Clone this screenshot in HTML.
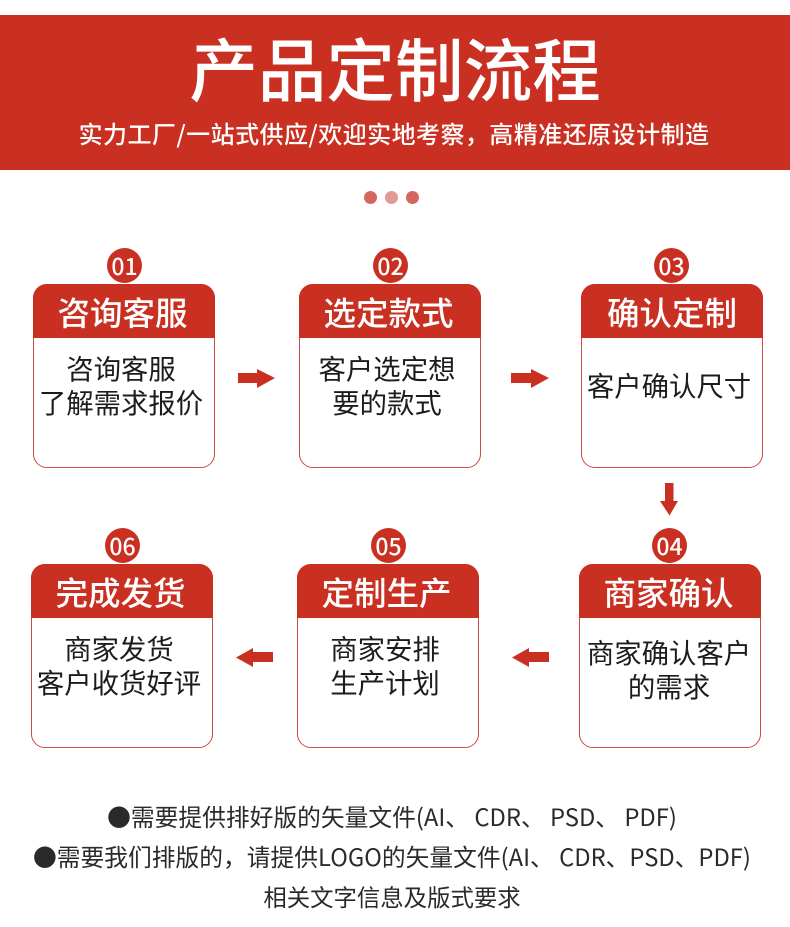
<!DOCTYPE html>
<html lang="zh"><head><meta charset="utf-8"><style>
html,body{margin:0;padding:0;background:#fff}
#p{position:relative;width:790px;height:927px;overflow:hidden;background:#fff;font-family:"Liberation Sans","Noto Sans CJK SC",sans-serif;color:#222}
#p div{position:absolute;white-space:nowrap}
.t{text-align:center;line-height:1}
.b{box-sizing:border-box;width:182px;height:184px;border:1px solid #cf4a40;border-radius:14px;background:#fff}
.h{width:182px;height:54px;background:#c93022;border-radius:14px 14px 0 0;color:#fff;font-size:32.500px;line-height:56px;text-align:center;font-weight:500;font-family:"Noto Sans CJK SC",sans-serif}
.h span{position:relative;left:-1.500px}
.c{width:35px;height:35px;border-radius:50%;background:#c93022;color:#fff;font-size:23px;line-height:35px;text-align:center;font-weight:500;font-family:"Noto Sans CJK SC",sans-serif}
.x{width:182px;text-align:center;font-size:27.400px;line-height:34px;font-family:"Noto Sans CJK SC",sans-serif;color:#1c1c1c}
.f{width:790px;text-align:center;font-size:23.750px;line-height:34px;font-family:"Noto Sans CJK SC",sans-serif;color:#2a2a2a}
</style></head><body><div id="p">
<div style="left:0;top:15px;width:790px;height:155px;background:#c93022"></div>
<div class="t" style="left:0;top:27px;width:790px;font-size:68.600px;line-height:78px;color:#fff;font-weight:500;font-family:'Noto Sans CJK SC',sans-serif"><span style="position:relative;left:0">产品定制流程</span></div>
<div class="t" style="left:-1px;top:116px;width:790px;font-size:24px;line-height:34px;color:#fff;letter-spacing:.45px;font-weight:500;font-family:'Noto Sans CJK SC',sans-serif">实力工厂/一站式供应/欢迎实地考察，高精准还原设计制造</div>
<div style="left:364px;top:191px;width:13px;height:13px;border-radius:50%;background:#d4685f"></div>
<div style="left:385px;top:191px;width:13px;height:13px;border-radius:50%;background:#e29a94"></div>
<div style="left:406px;top:191px;width:13px;height:13px;border-radius:50%;background:#d4685f"></div>

<div class="c" style="left:107px;top:248px">01</div>
<div class="b" style="left:33px;top:284px"></div><div class="h" style="left:33px;top:284px"><span>咨询客服</span></div>
<div class="x" style="left:30px;top:350px">咨询客服<br>了解需求报价</div>

<div class="c" style="left:373px;top:248px">02</div>
<div class="b" style="left:299px;top:284px"></div><div class="h" style="left:299px;top:284px"><span>选定款式</span></div>
<div class="x" style="left:296px;top:350px">客户选定想<br>要的款式</div>

<div class="c" style="left:654px;top:248px">03</div>
<div class="b" style="left:581px;top:284px"></div><div class="h" style="left:581px;top:284px"><span style="left:0">确认定制</span></div>
<div class="x" style="left:578px;top:367px">客户确认尺寸</div>

<div class="c" style="left:652px;top:528px">04</div>
<div class="b" style="left:579px;top:564px"></div><div class="h" style="left:579px;top:564px"><span>商家确认</span></div>
<div class="x" style="left:578px;top:634px">商家确认客户<br>的需求</div>

<div class="c" style="left:371px;top:528px">05</div>
<div class="b" style="left:297px;top:564px"></div><div class="h" style="left:297px;top:564px"><span>定制生产</span></div>
<div class="x" style="left:294px;top:630px">商家安排<br>生产计划</div>

<div class="c" style="left:105px;top:528px">06</div>
<div class="b" style="left:31px;top:564px"></div><div class="h" style="left:31px;top:564px"><span>完成发货</span></div>
<div class="x" style="left:28px;top:630px">商家发货<br>客户收货好评</div>

<svg style="position:absolute;left:0;top:0" width="790" height="927" fill="#c93022">
<polygon points="238,373 257,373 257,369 275,378 257,388 257,383 238,383"/>
<polygon points="511,373 531,373 531,369 549,378 531,388 531,383 511,383"/>
<polygon points="665,483 673.500,483 673.500,501 678,501 669.500,515.500 660,501 665,501"/>
<polygon points="549,652 529,652 529,648 512,657.500 529,667 529,662 549,662"/>
<polygon points="273,652 253,652 253,648 236,657.500 253,667 253,662 273,662"/>
</svg>

<div class="f" style="left:0;top:799px"><span style="position:relative;left:-3px">●需要提供排好版的矢量文件(AI、 CDR、 PSD、 PDF)</span></div>
<div class="f" style="left:0;top:839px"><span style="position:relative;left:-3px">●需要我们排版的，请提供LOGO的矢量文件(AI、 CDR、PSD、PDF)</span></div>
<div class="f" style="left:0;top:879px;font-size:23.400px"><span style="position:relative;left:-3px">相关文字信息及版式要求</span></div>
</div></body></html>
